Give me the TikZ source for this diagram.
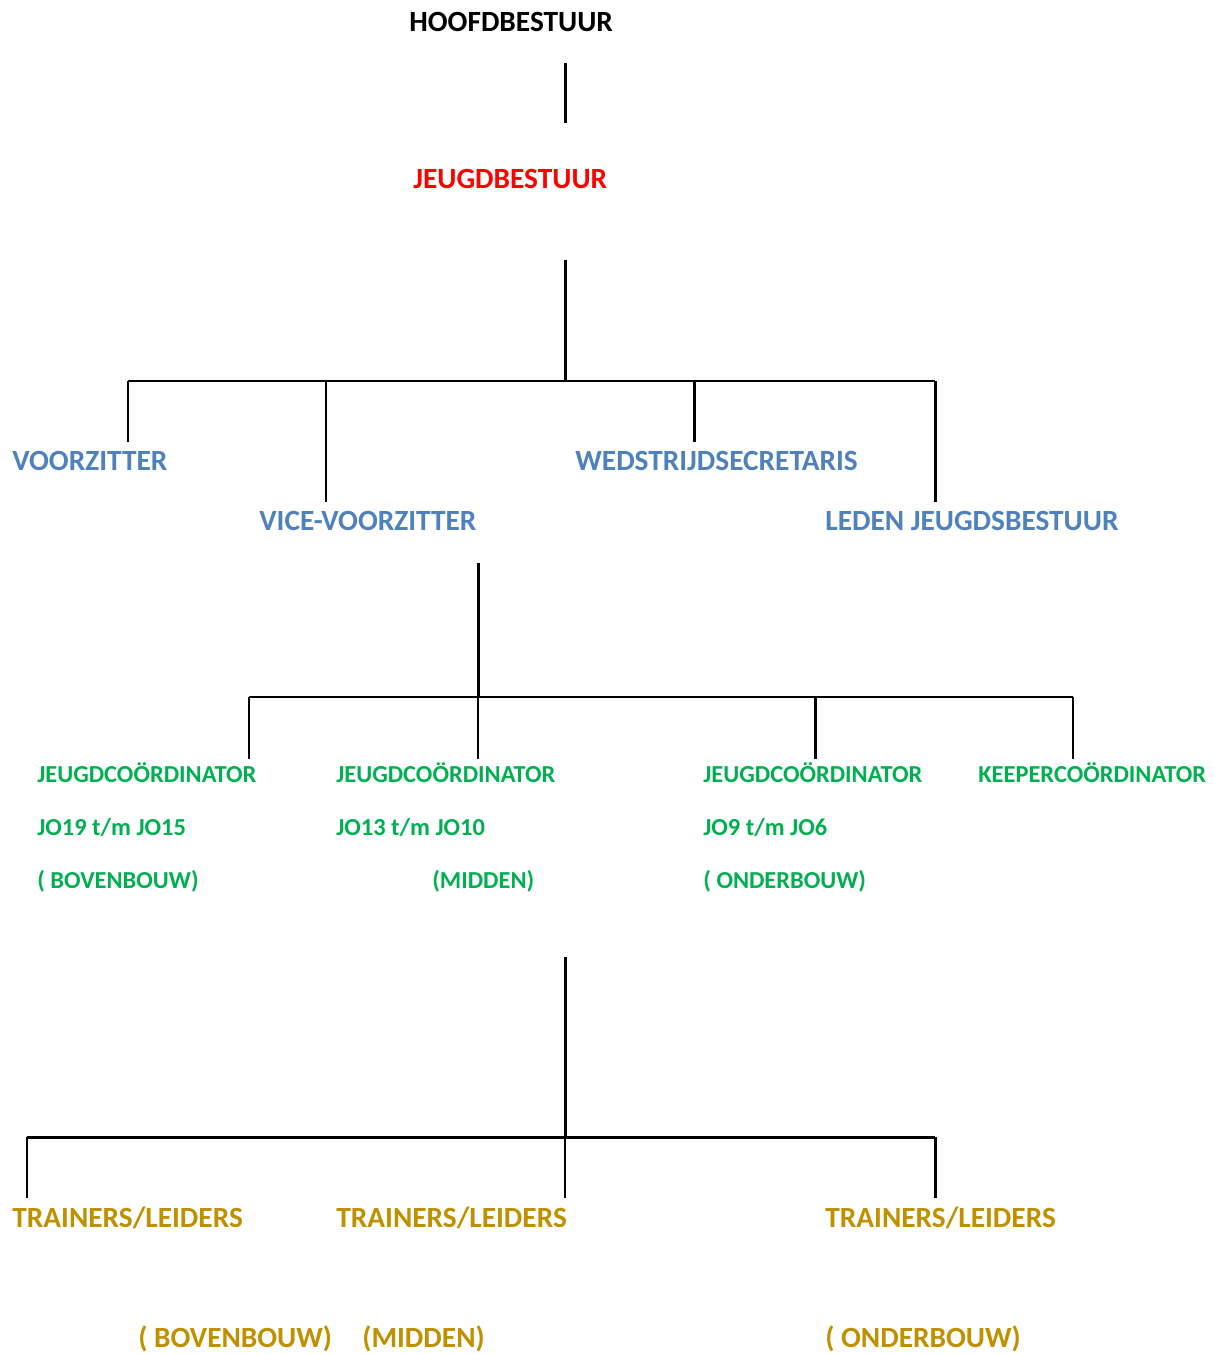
\documentclass[tikz,border=0pt]{standalone}
\usepackage{fontspec}
\setmainfont{Carlito}
\definecolor{jbred}{RGB}{255,0,0}
\definecolor{jbblue}{RGB}{79,129,189}
\definecolor{jbgreen}{RGB}{0,176,80}
\definecolor{jbgold}{RGB}{191,144,0}
\tikzset{
  lbl/.style={anchor=base west, inner sep=0pt, font=\fontsize{16.7}{20}\selectfont\bfseries},
  head/.style={lbl, text=black},
  jeugd/.style={lbl, text=jbred},
  func/.style={lbl, text=jbblue},
  coord/.style={lbl, text=jbgreen, font=\fontsize{13.9}{17}\selectfont\bfseries},
  train/.style={lbl, text=jbgold},
  thick line/.style={line width=1.7pt},
  thin line/.style={line width=1.1pt}
}

\begin{document}
\begin{tikzpicture}[x=0.02cm, y=-0.02cm]
		%%%%% START %%%%%
		\useasboundingbox (0, 0) rectangle (1214, 1354);
		
		% bestuur
		\node[head] (hoofd) at (409, 32) {HOOFDBESTUUR};
		\node[jeugd] (jeugd) at (413, 189) {JEUGDBESTUUR};
		
		\coordinate (h1) at (565, 63);
		\coordinate (h2) at (565, 123);
		\draw[thick line] (h1) -- (h2);
		
		% functies
		\node[func] (voorz) at (12, 470) {VOORZITTER};
		\node[func] (wedsec) at (575, 470) {WEDSTRIJDSECRETARIS};
		\node[func] (vice) at (259, 530) {VICE-VOORZITTER};
		\node[func] (leden) at (825, 530) {LEDEN JEUGDSBESTUUR};
		
		\coordinate (j1) at (565, 260);
		\coordinate (j2) at (565, 381);
		\coordinate (ja) at (128, 381);
		\coordinate (jb) at (935, 381);
		\draw[thick line] (j1) -- (j2);
		\draw[thick line] (ja) -- (jb);
		\draw[thick line] (ja) -- (128, 442);
		\draw[thick line] (326, 381) -- (326, 502);
		\draw[thick line] (694, 381) -- (694, 442);
		\draw[thick line] (jb) -- (935, 502);
		
		% coordinatoren
		\node[coord] (bov1) at (37, 782) {JEUGDCOÖRDINATOR};
		\node[coord] (bov2) at (37, 835) {JO19 t/m JO15};
		\node[coord] (bov3) at (37, 888) {( BOVENBOUW)};
		\node[coord] (mid1) at (336, 782) {JEUGDCOÖRDINATOR};
		\node[coord] (mid2) at (336, 835) {JO13 t/m JO10};
		\node[coord] (mid3) at (432, 888) {(MIDDEN)};
		\node[coord] (ond1) at (703, 782) {JEUGDCOÖRDINATOR};
		\node[coord] (ond2) at (703, 835) {JO9 t/m JO6};
		\node[coord] (ond3) at (703, 888) {( ONDERBOUW)};
		\node[coord] (keeper) at (978, 782) {KEEPERCOÖRDINATOR};
		
		\coordinate (v1) at (478, 563);
		\coordinate (v2) at (478, 697);
		\coordinate (va) at (249, 697);
		\coordinate (vb) at (815, 697);
		\coordinate (vc) at (1073, 697);
		\draw[thick line] (v1) -- (v2);
		\draw[thick line] (va) -- (vb);
		\draw[thin line] (vb) -- (vc);
		\draw[thick line] (va) -- (249, 759);
		\draw[thin line] (v2) -- (478, 759);
		\draw[thick line] (vb) -- (815, 759);
		\draw[thin line] (vc) -- (1073, 759);
		
		% trainers
		\node[train] (tr1) at (12, 1227) {TRAINERS/LEIDERS};
		\node[train] (tr2) at (336, 1227) {TRAINERS/LEIDERS};
		\node[train] (tr3) at (825, 1227) {TRAINERS/LEIDERS};
		\node[train] (tb1) at (138, 1347) {( BOVENBOUW)};
		\node[train] (tb2) at (362, 1347) {(MIDDEN)};
		\node[train] (tb3) at (825, 1347) {( ONDERBOUW)};
		
		\coordinate (t1) at (565, 957);
		\coordinate (t2) at (565, 1137);
		\coordinate (ta) at (27, 1137);
		\coordinate (tb) at (935, 1137);
		\draw[thick line] (t1) -- (t2);
		\draw[thick line] (ta) -- (tb);
		\draw[thick line] (ta) -- (27, 1198);
		\draw[thin line] (t2) -- (565, 1198);
		\draw[thick line] (tb) -- (935, 1198);
		
		%%%%% END %%%%%
	\end{tikzpicture}
\end{document}
